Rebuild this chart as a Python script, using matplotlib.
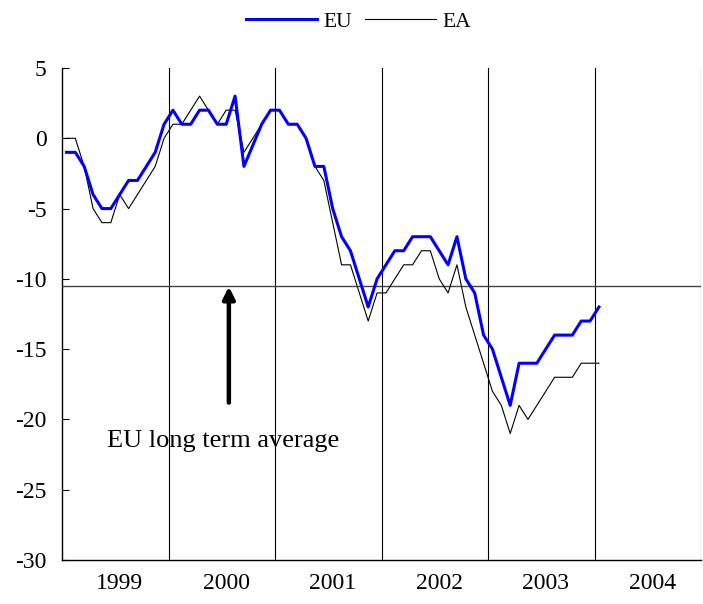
import matplotlib.pyplot as plt
import numpy as np

plt.rcParams['font.family'] = ['Liberation Serif', 'DejaVu Serif']
plt.rcParams['axes.unicode_minus'] = False

# monthly values, Jan 1999 - Jan 2004
eu = [-1, -1, -2, -4, -5, -5, -4, -3, -3, -2,
      -1, 1, 2, 1, 1, 2, 2, 1, 1, 3,
      -2, -0.5, 1, 2, 2, 1, 1, 0, -2, -2,
      -5, -7, -8, -10, -12, -10, -9, -8, -8, -7,
      -7, -7, -8, -9, -7, -10, -11, -14, -15, -17,
      -19, -16, -16, -16, -15, -14, -14, -14, -13, -13, -12]
ea = [0, 0, -2, -5, -6, -6, -4, -5, -4, -3,
      -2, 0, 1, 1, 2, 3, 2, 1, 2, 2,
      -1, 0, 1, 2, 2, 1, 1, 0, -2, -3,
      -6, -9, -9, -11, -13, -11, -11, -10, -9, -9,
      -8, -8, -10, -11, -9, -12, -14, -16, -18, -19,
      -21, -19, -20, -19, -18, -17, -17, -17, -16, -16, -16]
years = ["1999", "2000", "2001", "2002", "2003", "2004"]
long_term_avg = -10.5

months = np.arange(len(eu)) + 0.5  # points sit in the middle of each month slot

fig = plt.figure(figsize=(7.03, 6.04), dpi=100)
ax = fig.add_axes([0.0882, 0.0728, 0.909, 0.8146])

# year separators
for k in range(1, len(years) + 1):
    ax.axvline(12 * k, color="black", lw=0.8, zorder=1)

ax.axhline(long_term_avg, color="#444444", lw=1.0, zorder=1)

ax.plot(months, eu, color="#0000FF", lw=2.2, label="EU", zorder=3)
ax.plot(months, ea, color="black", lw=0.8, label="EA", zorder=2)

ax.set_xlim(0, 12 * len(years))
ax.set_ylim(-30, 5)
ax.set_yticks(np.arange(-30, 6, 5))
ax.set_yticklabels([str(v) for v in range(-30, 6, 5)], fontsize=17)
ax.set_xticks(np.arange(len(years)) * 12 + 6.5)
ax.set_xticklabels(years, fontsize=17)
ax.tick_params(axis="x", length=0, pad=9)
ax.tick_params(axis="y", direction="in", length=5, pad=11)

for s in ["top", "right"]:
    ax.spines[s].set_visible(False)
ax.spines["left"].set_linewidth(1.0)
ax.spines["bottom"].set_linewidth(1.0)

ax.annotate("", xy=(18.8, -10.55), xytext=(18.8, -18.8),
            arrowprops=dict(arrowstyle="-|>,head_width=0.35,head_length=0.7",
                            color="black", lw=3.2, shrinkA=0, shrinkB=0))
ax.text(5.1, -21.5, "EU long term average", fontsize=19, ha="left", va="center")

fig.legend(loc="upper center", bbox_to_anchor=(0.51, 1.013), ncol=2, frameon=False,
           fontsize=15.5, handlelength=3.3, handletextpad=0.3, columnspacing=0.6)

fig.savefig("out.png", dpi=100)
